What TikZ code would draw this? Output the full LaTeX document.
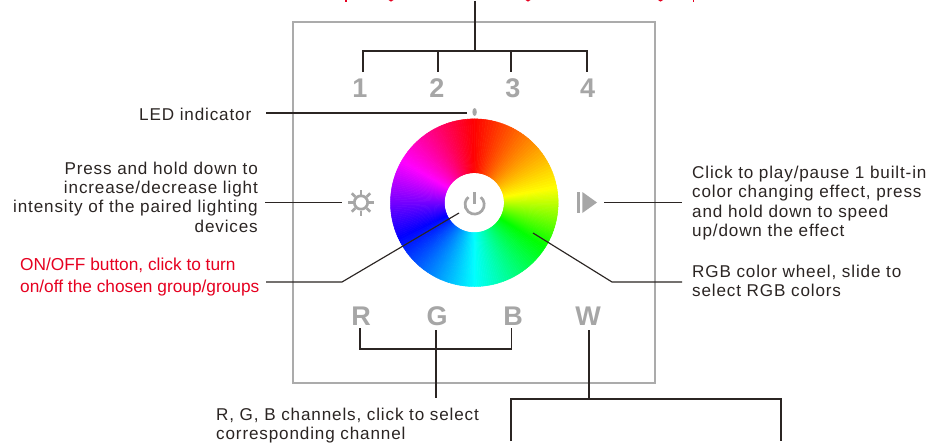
\documentclass[tikz,border=0pt]{standalone}
\usepackage{fontspec}
\usetikzlibrary{shapes.geometric}
\setmainfont{Liberation Sans}
\definecolor{wR}{rgb}{1,0,0}
\definecolor{wY}{rgb}{1,1,0}
\definecolor{wG}{rgb}{0,1,0}
\definecolor{wC}{rgb}{0,1,1}
\definecolor{wB}{rgb}{0,0,1}
\definecolor{wM}{rgb}{1,0,1}
\definecolor{panelgray}{HTML}{ABABAB}
\definecolor{icongray}{HTML}{A6A6A6}
\definecolor{inkdark}{HTML}{2B2523}
\definecolor{notered}{HTML}{E60020}
\tikzset{
  x=1pt,y=-1pt,
  panel/.style={draw=panelgray,line width=1.5pt},
  keylabel/.style={text=icongray,inner sep=0pt,font=\fontsize{27}{27}\selectfont\bfseries},
  leader/.style={draw=inkdark,line width=1.15pt},
  note/.style={inner sep=0pt,text=inkdark,font=\fontsize{17.1}{19.4}\selectfont\addfontfeature{LetterSpace=5}},
  rednote/.style={inner sep=0pt,text=notered,font=\fontsize{17.3}{22}\selectfont},
  iconline/.style={draw=icongray,line width=2.7pt},
}
\begin{document}
\begin{tikzpicture}
\useasboundingbox (0,0) rectangle (931,444);
\fill[white] (0,0) rectangle (931,444);
% panel
\node[panel,minimum width=362pt,minimum height=361pt,inner sep=0pt] (panel) at (474,202.5) {};
% cut-off red line at the top edge
\fill[notered] (345.3,0) rectangle (346.8,1.6);
\fill[notered] (388.5,0) .. controls (389.5,2.2) and (392.5,2.2) .. (393.5,0) -- cycle;
\fill[notered] (525.5,0) .. controls (526.5,2.2) and (529.5,2.2) .. (530.5,0) -- cycle;
\fill[notered] (658,0) .. controls (659,2.2) and (662,2.2) .. (663,0) -- cycle;
\fill[notered] (692.8,0) rectangle (694.3,1.6);
% wheel
\begin{scope}[shift={(474.3,202.7)},yscale=-1]
\foreach \a/\b/\ca/\cb in {90/10/wR/wY,10/-32/wY/wG,-32/-90/wG/wC,-90/-155/wC/wB,-155/-210/wB/wM,-210/-270/wM/wR}{
  \foreach \t in {0,...,39}{
    \pgfmathsetmacro\u{\a+(\b-\a)*\t/40}
    \pgfmathsetmacro\v{\a+(\b-\a)*(\t+1)/40}
    \pgfmathsetmacro\p{100-(\t+.5)*2.5}
    \path[fill=\ca!\p!\cb,draw=\ca!\p!\cb,line width=.5pt] (\u:83.8) -- (\v:83.8) -- (\v:30) -- (\u:30) -- cycle;
  }
}
\end{scope}
\fill[white] (474.3,202.7) circle (28.3);
% power icon
\draw[iconline] ([shift={(-50:9.6)}]474.6,204.5) arc[start angle=-50,end angle=230,radius=9.6];
\draw[iconline] (474.6,192) -- (474.6,204);
% sun icon
\draw[iconline] (361,202.5) circle (6.7);
\foreach \r in {0,45,...,315}{
  \draw[icongray,line width=2.6pt] ([shift={(\r:8)}]361,202.5) -- ([shift={(\r:13)}]361,202.5);
}
% play icon
\fill[icongray] (577,192) rectangle (580,213);
\fill[icongray] (582.3,192) -- (597,202.5) -- (582.3,213) -- cycle;
% LED
\node[fill=icongray,ellipse,minimum width=4.4pt,minimum height=8pt,inner sep=0pt] (led) at (474.6,112) {};
% key labels
\node[keylabel] (k1) at (360,88) {1};
\node[keylabel] (k2) at (437,88) {2};
\node[keylabel] (k3) at (513,88) {3};
\node[keylabel] (k4) at (587.5,88) {4};
\node[keylabel] (kR) at (361,316) {R};
\node[keylabel] (kG) at (437,316) {G};
\node[keylabel] (kB) at (513,316) {B};
\node[keylabel] (kW) at (588,316) {W};
% text
\node[note,anchor=base west] (ledtxt) at (139,120) {LED indicator};
\node[note,anchor=north east,align=right] (suntxt) at (258,161.5) {Press and hold down to\\increase/decrease light\\intensity of the paired lighting\\devices};
\node[rednote,anchor=north west,align=left] (ontxt) at (20,258) {ON/OFF button, click to turn\\on/off the chosen group/groups};
\node[note,anchor=north west,align=left] (playtxt) at (692,166) {Click to play/pause 1 built-in\\color changing effect, press\\and hold down to speed\\up/down the effect};
\node[note,anchor=north west,align=left] (wheeltxt) at (692,265) {RGB color wheel, slide to\\select RGB colors};
\node[note,anchor=north west,align=left] (rgbtxt) at (216,407.5) {R, G, B channels, click to select\\corresponding channel};
% free ends and junctions
\coordinate (topend) at (475,1);
\coordinate (topbar) at (475,51);
\coordinate (b1) at (363,51); \coordinate (d1) at (363,72);
\coordinate (b2) at (438,51); \coordinate (d2) at (438,72);
\coordinate (b3) at (511,51); \coordinate (d3) at (511,72);
\coordinate (b4) at (587,51); \coordinate (d4) at (587,72);
\draw[leader] (topend) -- (topbar);
\draw[leader] (d1) -- (b1) -- (b4) -- (d4);
\draw[leader] (b2) -- (d2);
\draw[leader] (b3) -- (d3);
\coordinate (ledl) at (266,113); \coordinate (ledr) at (467,113);
\draw[leader] (ledl) -- (ledr);
\coordinate (sunl) at (265,202.5); \coordinate (sunr) at (342,202.5);
\draw[leader] (sunl) -- (sunr);
\coordinate (onl) at (266,282); \coordinate (onm) at (342,282); \coordinate (one) at (459,213);
\draw[leader] (onl) -- (onm) -- (one);
\coordinate (playl) at (604,202.5); \coordinate (playr) at (682,202.5);
\draw[leader] (playl) -- (playr);
\coordinate (whs) at (533,233); \coordinate (whm) at (612,282); \coordinate (whe) at (682,282);
\draw[leader] (whs) -- (whm) -- (whe);
\coordinate (rt) at (360,328); \coordinate (rb) at (360,349);
\coordinate (bt) at (511.5,328); \coordinate (bb) at (511.5,349);
\coordinate (gt) at (436,330); \coordinate (gb) at (436,398);
\draw[leader] (rt) -- (rb) -- (bb) -- (bt);
\draw[leader] (gt) -- (gb);
\coordinate (wt) at (589,330); \coordinate (wb) at (589,399);
\coordinate (wl) at (511,399); \coordinate (wr) at (781,399);
\coordinate (wld) at (511,441); \coordinate (wrd) at (781,441);
\draw[leader] (wt) -- (wb);
\draw[leader] (wld) -- (wl) -- (wr) -- (wrd);
\end{tikzpicture}
\end{document}
